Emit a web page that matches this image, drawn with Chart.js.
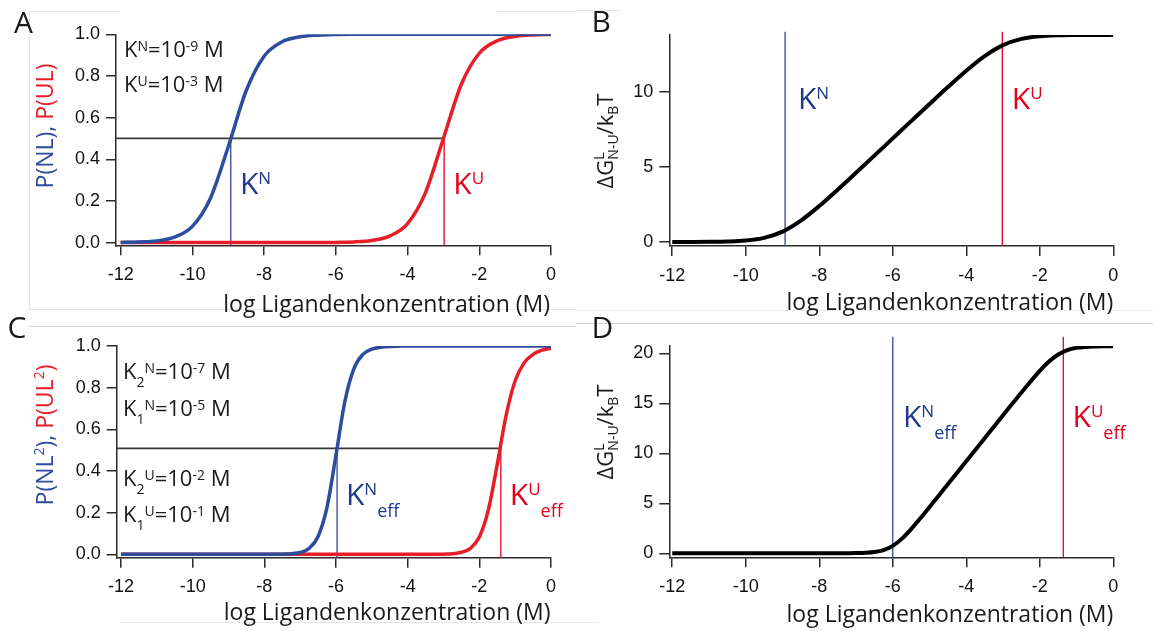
<!DOCTYPE html>
<html>
<head>
<meta charset="utf-8">
<script src="https://cdn.jsdelivr.net/npm/chart.js@4.4.1/dist/chart.umd.min.js"></script>
<style>
    body { margin: 0; background: #fff; width: 1153px; height: 631px; position: relative; overflow: hidden; }
    canvas { position: absolute; }
    .rule { position: absolute; background: #e6e6e6; }
</style>
</head>
<body>
<div class="rule" style="left:29px;top:11px;width:1px;height:299px"></div>
<div class="rule" style="left:29px;top:11px;width:91px;height:1px"></div>
<div class="rule" style="left:497px;top:11px;width:79px;height:1px"></div>
<div class="rule" style="left:29px;top:309px;width:547px;height:1px"></div>
<div class="rule" style="left:29px;top:326px;width:547px;height:1px;background:#d6d6d6"></div>
<div class="rule" style="left:120px;top:622px;width:460px;height:1px"></div>
<div class="rule" style="left:576px;top:10px;width:46px;height:1px"></div>
<div class="rule" style="left:576px;top:310px;width:577px;height:1px;background:#eeeeee"></div>
<div class="rule" style="left:576px;top:323px;width:577px;height:1px;background:#cfcfcf"></div>
<div class="rule" style="left:576px;top:622px;width:22px;height:1px"></div>

<canvas id="panelA" width="576" height="330" style="left:0;top:0"></canvas>
<canvas id="panelB" width="577" height="330" style="left:576px;top:0"></canvas>
<canvas id="panelC" width="576" height="315" style="left:0;top:316px"></canvas>
<canvas id="panelD" width="577" height="315" style="left:576px;top:316px"></canvas>

<script>
// log ligand concentration (M)
const logConc = [-12, -11.5, -11, -10.5, -10, -9.5, -9, -8.5, -8, -7.5, -7, -6.5, -6,
    -5.5, -5, -4.5, -4, -3.5, -3, -2.5, -2, -1.5, -1, -0.5, 0];
const logConcFine = [-12, -11.75, -11.5, -11.25, -11, -10.75, -10.5, -10.25, -10, -9.75, -9.5, -9.25, -9,
    -8.75, -8.5, -8.25, -8, -7.75, -7.5, -7.25, -7, -6.75, -6.5, -6.25, -6,
    -5.75, -5.5, -5.25, -5, -4.75, -4.5, -4.25, -4, -3.75, -3.5, -3.25, -3,
    -2.75, -2.5, -2.25, -2, -1.75, -1.5, -1.25, -1, -0.75, -0.5, -0.25, 0];

// panel A: P(NL), P(UL)
const pNL = [0.001, 0.003, 0.008, 0.026, 0.078, 0.212, 0.460, 0.729, 0.895, 0.964, 0.988, 0.996, 0.999,
    1, 1, 1, 1, 1, 1, 1, 1, 1, 1, 1, 1];
const pUL = [0, 0, 0, 0, 0, 0, 0, 0, 0, 0, 0, 0, 0.001,
    0.003, 0.010, 0.031, 0.091, 0.240, 0.500, 0.760, 0.909, 0.969, 0.990, 0.997, 0.999];

// panel B: dG / kBT
const dGsingle = [0.001, 0.003, 0.010, 0.031, 0.095, 0.275, 0.693, 1.426, 2.398, 3.485, 4.615, 5.759, 6.908,
    8.056, 9.200, 10.331, 11.418, 12.390, 13.122, 13.541, 13.720, 13.784, 13.806, 13.813, 13.815];

// panel C: P(NL2), P(UL2)
const pNL2 = [0, 0, 0, 0, 0, 0, 0, 0, 0, 0, 0, 0, 0,
    0, 0, 0, 0, 0, 0.001, 0.003, 0.009, 0.029, 0.086, 0.227, 0.477,
    0.736, 0.892, 0.960, 0.985, 0.994, 0.998, 0.999, 1, 1, 1, 1, 1,
    1, 1, 1, 1, 1, 1, 1, 1, 1, 1, 1, 1];
const pUL2 = [0, 0, 0, 0, 0, 0, 0, 0, 0, 0, 0, 0, 0,
    0, 0, 0, 0, 0, 0, 0, 0, 0, 0, 0, 0,
    0, 0, 0, 0, 0, 0, 0, 0, 0, 0, 0, 0.001,
    0.003, 0.010, 0.029, 0.083, 0.212, 0.432, 0.669, 0.833, 0.919, 0.960, 0.980, 0.989];

// panel D: dG / kBT, two sites
const dGdouble = [0, 0, 0, 0, 0, 0, 0, 0, 0, 0, 0, 0, 0,
    0.0002, 0.0003, 0.0006, 0.0011, 0.0021, 0.0042, 0.0088, 0.0198, 0.048, 0.124, 0.317, 0.742,
    1.468, 2.426, 3.502, 4.625, 5.765, 6.912, 8.060, 9.210, 10.360, 11.510, 12.659, 13.805,
    14.946, 16.077, 17.185, 18.238, 19.170, 19.883, 20.322, 20.541, 20.639, 20.683, 20.710, 20.712];

// guide lines
const halfA = 0.5, kNA = -8.93, kUA = -2.98;
const kNB = -8.93, kUB = -3.02, guideTopB = 14.02;
const halfC = 0.509, kNC = -5.97, kUC = -1.40;
const kND = -6.0, kUD = -1.36, guideTopD = 21.66;

// ticks
const xTicks = [-12, -10, -8, -6, -4, -2, 0];
const xTickLabels = ['-12', '-10', '-8', '-6', '-4', '-2', '0'];
const probTicks = [0, 0.2, 0.4, 0.6, 0.8, 1.0];
const probTickLabels = ['0.0', '0.2', '0.4', '0.6', '0.8', '1.0'];
const dGTicksB = [0, 5, 10];
const dGTicksD = [0, 5, 10, 15, 20];

const BLUE = '#2d4c9e', RED = '#e61e28', BLUE_TXT = '#1f3a8c', RED_TXT = '#e3001b';
const BLUE_LINE = '#33489a', RED_LINE = '#e4002b', INK = '#1a1a1a', AXIS = '#2a2a2a';
const SANS = '"Open Sans", sans-serif';
const TICKFONT = '"Liberation Sans", Arial, sans-serif';

function pts(xs, ys) {
    return xs.map((x, i) => ({ x: x, y: ys[i] }));
}

function curve(xs, ys, color, width) {
    return {
        data: pts(xs, ys), borderColor: color, borderWidth: width,
        pointRadius: 0, fill: false, cubicInterpolationMode: 'monotone'
    };
}

function guide(points, color, width) {
    return { data: points, borderColor: color, borderWidth: width, pointRadius: 0, fill: false, tension: 0, clip: false };
}

// rich text: segments with sizes, colours and baseline shifts
function s(t, size, color, dy, stack) {
    return { t: t, size: size, color: color || INK, dy: dy || 0, stack: !!stack };
}

function drawRich(ctx, item) {
    ctx.save();
    ctx.translate(item.x, item.y);
    if (item.rot) ctx.rotate(item.rot);
    ctx.textBaseline = 'alphabetic';
    ctx.textAlign = 'left';
    let widths = item.segs.map(g => { ctx.font = g.size + 'px ' + SANS; return ctx.measureText(g.t).width; });
    let x = 0, stackW = 0, pos = [];
    item.segs.forEach((g, i) => {
        pos.push(x);
        if (g.stack) stackW = Math.max(stackW, widths[i]);
        else { x += Math.max(widths[i], stackW); stackW = 0; }
    });
    let x0 = item.align === 'center' ? -x / 2 : (item.align === 'right' ? -x : 0);
    item.segs.forEach((g, i) => {
        ctx.font = g.size + 'px ' + SANS;
        ctx.fillStyle = g.color;
        ctx.fillText(g.t, x0 + pos[i], g.dy);
    });
    ctx.restore();
}

const UP = -Math.PI / 2;
const xTitle = 'log Ligandenkonzentration (M)';

function kLine(sym, exp, x, y) {
    return { x: x, y: y, segs: [s('K', 22), s(sym, 14, INK, -6), s('=10', 22), s(exp, 14, INK, -6), s(' M', 22)] };
}

function kLine2(sub, sym, exp, x, y) {
    return { x: x, y: y, segs: [s('K', 22), s(sub, 14, INK, 8), s(sym, 14, INK, -6), s('=10', 22), s(exp, 14, INK, -6), s(' M', 22)] };
}

function kMark(sym, color, x, y, eff) {
    let segs = [s('K', 30, color), s(sym, 17, color, -10)];
    if (eff) segs.push(s('eff', 18, color, 12));
    return { x: x, y: y, segs: segs };
}

function dGTitle(x, y) {
    return { x: x, y: y, rot: UP, align: 'center', segs: [s('ΔG', 22), s('L', 14, INK, -9, true), s('N-U', 14, INK, 5),
        s('/k', 22), s('B', 14, INK, 5), s('T', 22)] };
}

function panel(id, origin, box, xMin, yRange, yTicks, yLabels, datasets, texts) {
    const textPlugin = {
        id: 'richText',
        afterDraw(chart) {
            const ctx = chart.ctx;
            ctx.save();
            ctx.translate(-origin[0], -origin[1]);
            texts.forEach(t => drawRich(ctx, t));
            ctx.restore();
        }
    };
    return new Chart(document.getElementById(id), {
        type: 'line',
        data: { datasets: datasets },
        options: {
            responsive: false,
            animation: false,
            events: [],
            layout: { padding: { left: 0, top: box.top, right: box.right, bottom: 0 } },
            plugins: { legend: { display: false }, tooltip: { enabled: false } },
            scales: {
                x: {
                    type: 'linear', min: xMin, max: 0,
                    afterBuildTicks: sc => { sc.ticks = xTicks.map(v => ({ value: v })); },
                    afterFit: sc => { sc.height = box.xh; },
                    border: { color: AXIS, width: 1.5 },
                    grid: { drawOnChartArea: false, tickLength: 10, color: AXIS, lineWidth: 1.5 },
                    ticks: {
                        color: '#111', padding: 9, maxRotation: 0, autoSkip: false,
                        font: { family: TICKFONT, size: 18 },
                        callback: (v, i) => xTickLabels[i]
                    }
                },
                y: {
                    type: 'linear', min: yRange[0], max: yRange[1],
                    afterBuildTicks: sc => { sc.ticks = yTicks.map(v => ({ value: v })); },
                    afterFit: sc => { sc.width = box.left; },
                    border: { color: AXIS, width: 1.5 },
                    grid: { drawOnChartArea: false, tickLength: 10, color: AXIS, lineWidth: 1.5 },
                    ticks: {
                        color: '#111', padding: 6, autoSkip: false,
                        font: { family: TICKFONT, size: 18 },
                        callback: (v, i) => yLabels[i]
                    }
                }
            }
        },
        plugins: [textPlugin]
    });
}

// A
const xMinA = -12.13, yMinA = -0.013;
panel('panelA', [0, 0], { left: 116, top: 34.3, right: 25, xh: 84.7 }, xMinA, [yMinA, 1.0], probTicks, probTickLabels, [
    curve(logConc, pNL, BLUE, 3.5),
    curve(logConc, pUL, RED, 3.5),
    guide([{ x: xMinA, y: halfA }, { x: kUA, y: halfA }], '#3a3a3a', 1.8),
    guide([{ x: kNA, y: halfA }, { x: kNA, y: yMinA }], BLUE_LINE, 1.3),
    guide([{ x: kUA, y: halfA }, { x: kUA, y: yMinA }], RED_LINE, 1.3)
], [
    { x: 14, y: 33, segs: [s('A', 30)] },
    kLine('N', '-9', 124, 57.3),
    kLine('U', '-3', 124, 92.3),
    kMark('N', BLUE_TXT, 240, 194),
    kMark('U', RED_TXT, 453.3, 194),
    { x: 53, y: 126, rot: UP, align: 'center', segs: [s('P(NL), ', 23, BLUE), s('P(UL)', 23, RED)] },
    { x: 550, y: 311.7, align: 'right', segs: [s(xTitle, 23)] }
]);

// B
const xMinB = -12.08, yMinB = -0.267;
panel('panelB', [576, 0], { left: 93.3, top: 35, right: 39.7, xh: 84 }, xMinB, [yMinB, 13.8], dGTicksB, dGTicksB.map(String), [
    curve(logConc, dGsingle, '#000', 4),
    guide([{ x: kNB, y: guideTopB }, { x: kNB, y: yMinB }], BLUE_LINE, 1.3),
    guide([{ x: kUB, y: guideTopB }, { x: kUB, y: yMinB }], RED_LINE, 1.3)
], [
    { x: 591.6, y: 32.3, segs: [s('B', 30)] },
    kMark('N', BLUE_TXT, 798, 109),
    kMark('U', RED_TXT, 1011.8, 109),
    dGTitle(613.3, 141),
    { x: 1113.3, y: 310, align: 'right', segs: [s(xTitle, 23)] }
]);

// C
const xMinC = -12.12, yMinC = -0.016;
panel('panelC', [0, 316], { left: 116.7, top: 30, right: 25, xh: 73.3 }, xMinC, [yMinC, 1.0], probTicks, probTickLabels, [
    curve(logConcFine, pNL2, BLUE, 3.5),
    curve(logConcFine, pUL2, RED, 3.5),
    guide([{ x: xMinC, y: halfC }, { x: kUC, y: halfC }], '#3a3a3a', 1.8),
    guide([{ x: kNC, y: halfC }, { x: kNC, y: yMinC }], BLUE_LINE, 1.3),
    guide([{ x: kUC, y: halfC }, { x: kUC, y: yMinC }], RED_LINE, 1.3)
], [
    { x: 7.4, y: 338, segs: [s('C', 30)] },
    kLine2('2', 'N', '-7', 123, 379),
    kLine2('1', 'N', '-5', 123, 416),
    kLine2('2', 'U', '-2', 123, 485.7),
    kLine2('1', 'U', '-1', 123, 521.7),
    kMark('N', BLUE_TXT, 346, 505, true),
    kMark('U', RED_TXT, 509.8, 505, true),
    { x: 53, y: 435, rot: UP, align: 'center', segs: [s('P(NL', 23, BLUE), s('2', 14, BLUE, -9), s('), ', 23, BLUE),
        s('P(UL', 23, RED), s('2', 14, RED, -9), s(')', 23, RED)] },
    { x: 550.5, y: 620, align: 'right', segs: [s(xTitle, 23)] }
]);

// D
const xMinD = -12.08, yMinD = -0.4;
panel('panelD', [576, 316], { left: 93.3, top: 30, right: 39.7, xh: 73.7 }, xMinD, [yMinD, 20.73], dGTicksD, dGTicksD.map(String), [
    curve(logConcFine, dGdouble, '#000', 4),
    guide([{ x: kND, y: guideTopD }, { x: kND, y: yMinD }], BLUE_LINE, 1.3),
    guide([{ x: kUD, y: guideTopD }, { x: kUD, y: yMinD }], RED_LINE, 1.3)
], [
    { x: 591.6, y: 338, segs: [s('D', 30)] },
    kMark('N', BLUE_TXT, 903, 426.7, true),
    kMark('U', RED_TXT, 1072.6, 426.7, true),
    dGTitle(613.3, 432),
    { x: 1113.3, y: 621.7, align: 'right', segs: [s(xTitle, 23)] }
]);
</script>
</body>
</html>
